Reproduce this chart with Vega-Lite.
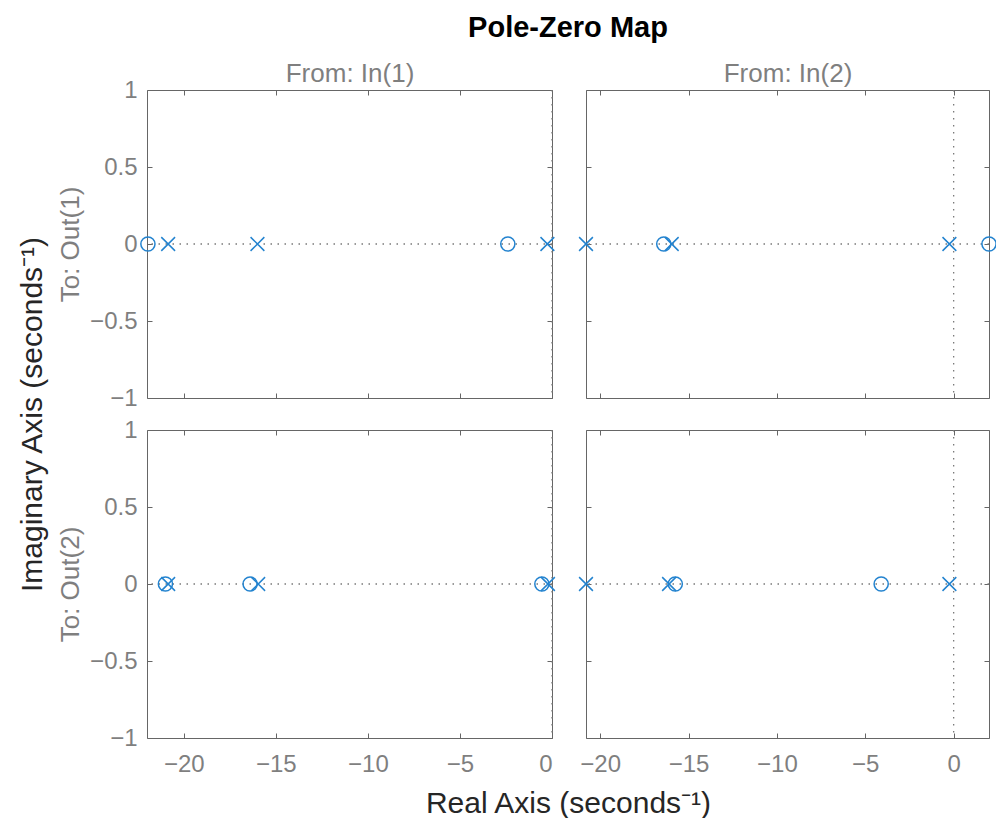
{
  "$schema": "https://vega.github.io/schema/vega-lite/v6.json",
  "background": "white",
  "padding": {"left": 17, "top": 13, "right": 0, "bottom": 0},
  "title": {"text": "Pole-Zero Map", "anchor": "middle", "frame": "group", "dx": 421, "fontSize": 29, "fontWeight": "bold", "color": "#000000", "font": "Liberation Sans", "offset": 18},
  "datasets": {
    "pz": [
      {"input": "In(1)", "output": "Out(1)", "kind": "zero", "re": -21.95, "im": 0},
      {"input": "In(1)", "output": "Out(1)", "kind": "zero", "re": -2.4, "im": 0},
      {"input": "In(1)", "output": "Out(1)", "kind": "pole", "re": -20.85, "im": 0},
      {"input": "In(1)", "output": "Out(1)", "kind": "pole", "re": -16.0, "im": 0},
      {"input": "In(1)", "output": "Out(1)", "kind": "pole", "re": -0.25, "im": 0},
      {"input": "In(2)", "output": "Out(1)", "kind": "zero", "re": -16.4, "im": 0},
      {"input": "In(2)", "output": "Out(1)", "kind": "zero", "re": 2.0, "im": 0},
      {"input": "In(2)", "output": "Out(1)", "kind": "pole", "re": -20.8, "im": 0},
      {"input": "In(2)", "output": "Out(1)", "kind": "pole", "re": -15.95, "im": 0},
      {"input": "In(2)", "output": "Out(1)", "kind": "pole", "re": -0.24, "im": 0},
      {"input": "In(1)", "output": "Out(2)", "kind": "zero", "re": -21.0, "im": 0},
      {"input": "In(1)", "output": "Out(2)", "kind": "zero", "re": -16.4, "im": 0},
      {"input": "In(1)", "output": "Out(2)", "kind": "zero", "re": -0.55, "im": 0},
      {"input": "In(1)", "output": "Out(2)", "kind": "pole", "re": -20.85, "im": 0},
      {"input": "In(1)", "output": "Out(2)", "kind": "pole", "re": -15.96, "im": 0},
      {"input": "In(1)", "output": "Out(2)", "kind": "pole", "re": -0.22, "im": 0},
      {"input": "In(2)", "output": "Out(2)", "kind": "zero", "re": -15.75, "im": 0},
      {"input": "In(2)", "output": "Out(2)", "kind": "zero", "re": -4.1, "im": 0},
      {"input": "In(2)", "output": "Out(2)", "kind": "pole", "re": -20.8, "im": 0},
      {"input": "In(2)", "output": "Out(2)", "kind": "pole", "re": -16.1, "im": 0},
      {"input": "In(2)", "output": "Out(2)", "kind": "pole", "re": -0.24, "im": 0}
    ]
  },
  "columns": 2,
  "bounds": "flush",
  "spacing": {"row": 32, "column": 34},
  "concat": [
    {
      "width": 405,
      "height": 308,
      "layer": [
        {"data": {"values": [{}]}, "mark": {"type": "rule", "color": "#7a7a7a", "strokeDash": [1.5, 5.5], "strokeWidth": 1.3},
         "encoding": {"y": {"datum": 0, "type": "quantitative", "scale": {"domain": [-1, 1], "nice": false, "zero": false}, "axis": {"orient": "left", "values": [-1, -0.5, 0, 0.5, 1], "format": "~g", "title": "To: Out(1)"}}}},
        {"data": {"values": [{}]}, "mark": {"type": "rule", "color": "#7a7a7a", "strokeDash": [1.5, 5.5], "strokeWidth": 1.3},
         "encoding": {"x": {"datum": 0, "type": "quantitative", "scale": {"domain": [-22, 0], "nice": false, "zero": false}, "axis": {"orient": "bottom", "values": [-20, -15, -10, -5, 0], "labels": false, "title": null}}}},
        {"data": {"name": "pz"}, "transform": [{"filter": "datum.input == 'In(1)' && datum.output == 'Out(1)' && datum.kind == 'zero'"}],
         "mark": {"type": "point", "shape": "circle", "size": 200, "filled": false, "color": "#2383cf", "strokeWidth": 1.5, "opacity": 1},
         "encoding": {"x": {"field": "re", "type": "quantitative", "scale": {"domain": [-22, 0], "nice": false, "zero": false}, "axis": {"orient": "top", "values": [-20, -15, -10, -5, 0], "labels": false, "title": "From: In(1)", "titlePadding": 3}},
                      "y": {"field": "im", "type": "quantitative", "scale": {"domain": [-1, 1], "nice": false, "zero": false}, "axis": {"orient": "right", "values": [-1, -0.5, 0, 0.5, 1], "labels": false, "title": null}}}},
        {"data": {"name": "pz"}, "transform": [{"filter": "datum.input == 'In(1)' && datum.output == 'Out(1)' && datum.kind == 'pole'"}],
         "mark": {"type": "point", "shape": "M-1,-1L1,1M-1,1L1,-1", "size": 190, "filled": false, "color": "#2383cf", "strokeWidth": 1.5, "opacity": 1},
         "encoding": {"x": {"field": "re", "type": "quantitative", "scale": {"domain": [-22, 0], "nice": false, "zero": false}, "axis": null},
                      "y": {"field": "im", "type": "quantitative", "scale": {"domain": [-1, 1], "nice": false, "zero": false}, "axis": {"orient": "left", "domain": false, "ticks": false, "labels": false, "title": "Imaginary Axis (seconds⁻¹)", "titleX": -115, "titleY": 324, "titleAngle": 270, "titleBaseline": "middle", "titleAlign": "center", "titleColor": "#262626", "titleFontSize": 30}}}}
      ],
      "resolve": {"axis": {"x": "independent", "y": "independent"}}
    },
    {
      "width": 403,
      "height": 308,
      "layer": [
        {"data": {"values": [{}]}, "mark": {"type": "rule", "color": "#7a7a7a", "strokeDash": [1.5, 5.5], "strokeWidth": 1.3},
         "encoding": {"y": {"datum": 0, "type": "quantitative", "scale": {"domain": [-1, 1], "nice": false, "zero": false}, "axis": {"orient": "left", "values": [-1, -0.5, 0, 0.5, 1], "labels": false, "title": null}}}},
        {"data": {"values": [{}]}, "mark": {"type": "rule", "color": "#7a7a7a", "strokeDash": [1.5, 5.5], "strokeWidth": 1.3},
         "encoding": {"x": {"datum": 0, "type": "quantitative", "scale": {"domain": [-20.8, 2], "nice": false, "zero": false}, "axis": {"orient": "bottom", "values": [-20, -15, -10, -5, 0], "labels": false, "title": null}}}},
        {"data": {"name": "pz"}, "transform": [{"filter": "datum.input == 'In(2)' && datum.output == 'Out(1)' && datum.kind == 'zero'"}],
         "mark": {"type": "point", "shape": "circle", "size": 200, "filled": false, "color": "#2383cf", "strokeWidth": 1.5, "opacity": 1},
         "encoding": {"x": {"field": "re", "type": "quantitative", "scale": {"domain": [-20.8, 2], "nice": false, "zero": false}, "axis": {"orient": "top", "values": [-20, -15, -10, -5, 0], "labels": false, "title": "From: In(2)", "titlePadding": 3}},
                      "y": {"field": "im", "type": "quantitative", "scale": {"domain": [-1, 1], "nice": false, "zero": false}, "axis": {"orient": "right", "values": [-1, -0.5, 0, 0.5, 1], "labels": false, "title": null}}}},
        {"data": {"name": "pz"}, "transform": [{"filter": "datum.input == 'In(2)' && datum.output == 'Out(1)' && datum.kind == 'pole'"}],
         "mark": {"type": "point", "shape": "M-1,-1L1,1M-1,1L1,-1", "size": 190, "filled": false, "color": "#2383cf", "strokeWidth": 1.5, "opacity": 1},
         "encoding": {"x": {"field": "re", "type": "quantitative", "scale": {"domain": [-20.8, 2], "nice": false, "zero": false}, "axis": null},
                      "y": {"field": "im", "type": "quantitative", "scale": {"domain": [-1, 1], "nice": false, "zero": false}, "axis": null}}}
      ],
      "resolve": {"axis": {"x": "independent", "y": "independent"}}
    },
    {
      "width": 405,
      "height": 308,
      "layer": [
        {"data": {"values": [{}]}, "mark": {"type": "rule", "color": "#7a7a7a", "strokeDash": [1.5, 5.5], "strokeWidth": 1.3},
         "encoding": {"y": {"datum": 0, "type": "quantitative", "scale": {"domain": [-1, 1], "nice": false, "zero": false}, "axis": {"orient": "left", "values": [-1, -0.5, 0, 0.5, 1], "format": "~g", "title": "To: Out(2)"}}}},
        {"data": {"values": [{}]}, "mark": {"type": "rule", "color": "#7a7a7a", "strokeDash": [1.5, 5.5], "strokeWidth": 1.3},
         "encoding": {"x": {"datum": 0, "type": "quantitative", "scale": {"domain": [-22, 0], "nice": false, "zero": false}, "axis": {"orient": "bottom", "values": [-20, -15, -10, -5, 0], "format": "~g", "title": null}}}},
        {"data": {"name": "pz"}, "transform": [{"filter": "datum.input == 'In(1)' && datum.output == 'Out(2)' && datum.kind == 'zero'"}],
         "mark": {"type": "point", "shape": "circle", "size": 200, "filled": false, "color": "#2383cf", "strokeWidth": 1.5, "opacity": 1},
         "encoding": {"x": {"field": "re", "type": "quantitative", "scale": {"domain": [-22, 0], "nice": false, "zero": false}, "axis": {"orient": "top", "values": [-20, -15, -10, -5, 0], "labels": false, "title": null}},
                      "y": {"field": "im", "type": "quantitative", "scale": {"domain": [-1, 1], "nice": false, "zero": false}, "axis": {"orient": "right", "values": [-1, -0.5, 0, 0.5, 1], "labels": false, "title": null}}}},
        {"data": {"name": "pz"}, "transform": [{"filter": "datum.input == 'In(1)' && datum.output == 'Out(2)' && datum.kind == 'pole'"}],
         "mark": {"type": "point", "shape": "M-1,-1L1,1M-1,1L1,-1", "size": 190, "filled": false, "color": "#2383cf", "strokeWidth": 1.5, "opacity": 1},
         "encoding": {"x": {"field": "re", "type": "quantitative", "scale": {"domain": [-22, 0], "nice": false, "zero": false}, "axis": {"orient": "bottom", "domain": false, "ticks": false, "labels": false, "title": "Real Axis (seconds⁻¹)", "titleX": 421, "titleY": 65, "titleBaseline": "middle", "titleAlign": "center", "titleColor": "#262626", "titleFontSize": 30}},
                      "y": {"field": "im", "type": "quantitative", "scale": {"domain": [-1, 1], "nice": false, "zero": false}, "axis": null}}}
      ],
      "resolve": {"axis": {"x": "independent", "y": "independent"}}
    },
    {
      "width": 403,
      "height": 308,
      "layer": [
        {"data": {"values": [{}]}, "mark": {"type": "rule", "color": "#7a7a7a", "strokeDash": [1.5, 5.5], "strokeWidth": 1.3},
         "encoding": {"y": {"datum": 0, "type": "quantitative", "scale": {"domain": [-1, 1], "nice": false, "zero": false}, "axis": {"orient": "left", "values": [-1, -0.5, 0, 0.5, 1], "labels": false, "title": null}}}},
        {"data": {"values": [{}]}, "mark": {"type": "rule", "color": "#7a7a7a", "strokeDash": [1.5, 5.5], "strokeWidth": 1.3},
         "encoding": {"x": {"datum": 0, "type": "quantitative", "scale": {"domain": [-20.8, 2], "nice": false, "zero": false}, "axis": {"orient": "bottom", "values": [-20, -15, -10, -5, 0], "format": "~g", "title": null}}}},
        {"data": {"name": "pz"}, "transform": [{"filter": "datum.input == 'In(2)' && datum.output == 'Out(2)' && datum.kind == 'zero'"}],
         "mark": {"type": "point", "shape": "circle", "size": 200, "filled": false, "color": "#2383cf", "strokeWidth": 1.5, "opacity": 1},
         "encoding": {"x": {"field": "re", "type": "quantitative", "scale": {"domain": [-20.8, 2], "nice": false, "zero": false}, "axis": {"orient": "top", "values": [-20, -15, -10, -5, 0], "labels": false, "title": null}},
                      "y": {"field": "im", "type": "quantitative", "scale": {"domain": [-1, 1], "nice": false, "zero": false}, "axis": {"orient": "right", "values": [-1, -0.5, 0, 0.5, 1], "labels": false, "title": null}}}},
        {"data": {"name": "pz"}, "transform": [{"filter": "datum.input == 'In(2)' && datum.output == 'Out(2)' && datum.kind == 'pole'"}],
         "mark": {"type": "point", "shape": "M-1,-1L1,1M-1,1L1,-1", "size": 190, "filled": false, "color": "#2383cf", "strokeWidth": 1.5, "opacity": 1},
         "encoding": {"x": {"field": "re", "type": "quantitative", "scale": {"domain": [-20.8, 2], "nice": false, "zero": false}, "axis": null},
                      "y": {"field": "im", "type": "quantitative", "scale": {"domain": [-1, 1], "nice": false, "zero": false}, "axis": null}}}
      ],
      "resolve": {"axis": {"x": "independent", "y": "independent"}}
    }
  ],
  "config": {
    "view": {"stroke": null},
    "font": "Liberation Sans",
    "axis": {
      "domainColor": "#666666",
      "tickColor": "#666666",
      "labelColor": "#7f7f7f",
      "labelFontSize": 24,
      "labelFont": "Liberation Sans",
      "tickSize": -5,
      "titleColor": "#7f7f7f",
      "titleFontSize": 26,
      "titleFontWeight": "normal",
      "titleFont": "Liberation Sans",
      "grid": false,
      "domainWidth": 1,
      "tickWidth": 1
    },
    "axisX": {"labelPadding": 19},
    "axisY": {"labelPadding": 15, "titlePadding": 6}
  }
}
